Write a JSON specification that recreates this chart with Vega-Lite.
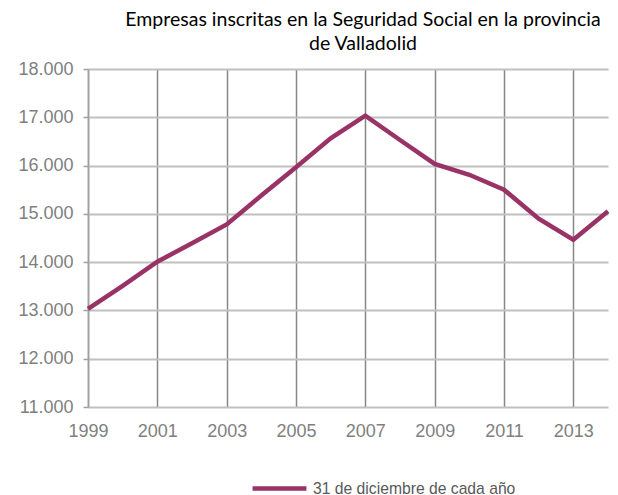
{
  "$schema": "https://vega.github.io/schema/vega-lite/v6.json",
  "width": 520,
  "height": 338,
  "autosize": "none",
  "padding": {"left": 88, "top": 69, "right": 10, "bottom": 88},
  "background": "#ffffff",
  "title": {
    "text": ["Empresas inscritas en la Seguridad Social en la provincia", "de Valladolid"],
    "font": "Lato",
    "fontSize": 19.5,
    "fontWeight": "normal",
    "color": "#000000",
    "anchor": "middle",
    "dx": 15,
    "offset": 6,
    "lineHeight": 24
  },
  "data": {
    "values": [
      {"anio": 1999, "empresas": 13030, "serie": "31 de diciembre de cada año"},
      {"anio": 2000, "empresas": 13510, "serie": "31 de diciembre de cada año"},
      {"anio": 2001, "empresas": 14010, "serie": "31 de diciembre de cada año"},
      {"anio": 2002, "empresas": 14390, "serie": "31 de diciembre de cada año"},
      {"anio": 2003, "empresas": 14780, "serie": "31 de diciembre de cada año"},
      {"anio": 2004, "empresas": 15380, "serie": "31 de diciembre de cada año"},
      {"anio": 2005, "empresas": 15965, "serie": "31 de diciembre de cada año"},
      {"anio": 2006, "empresas": 16565, "serie": "31 de diciembre de cada año"},
      {"anio": 2007, "empresas": 17035, "serie": "31 de diciembre de cada año"},
      {"anio": 2008, "empresas": 16530, "serie": "31 de diciembre de cada año"},
      {"anio": 2009, "empresas": 16035, "serie": "31 de diciembre de cada año"},
      {"anio": 2010, "empresas": 15810, "serie": "31 de diciembre de cada año"},
      {"anio": 2011, "empresas": 15500, "serie": "31 de diciembre de cada año"},
      {"anio": 2012, "empresas": 14900, "serie": "31 de diciembre de cada año"},
      {"anio": 2013, "empresas": 14465, "serie": "31 de diciembre de cada año"},
      {"anio": 2014, "empresas": 15055, "serie": "31 de diciembre de cada año"}
    ]
  },
  "mark": {"type": "line", "strokeWidth": 4.5, "strokeJoin": "miter", "strokeCap": "butt"},
  "encoding": {
    "x": {
      "field": "anio",
      "type": "quantitative",
      "scale": {"domain": [1999, 2014], "nice": false, "zero": false},
      "axis": {
        "values": [1999, 2001, 2003, 2005, 2007, 2009, 2011, 2013],
        "format": "d",
        "title": null,
        "grid": true,
        "gridColor": "#868686",
        "gridWidth": 1.5,
        "domain": false,
        "ticks": false,
        "labelFont": "Liberation Sans",
        "labelFontSize": 18,
        "labelColor": "#7f7f7f",
        "labelPadding": 15,
        "labelFlush": false
      }
    },
    "y": {
      "field": "empresas",
      "type": "quantitative",
      "scale": {"domain": [11000, 18000], "nice": false, "zero": false},
      "axis": {
        "values": [11000, 12000, 13000, 14000, 15000, 16000, 17000, 18000],
        "labelExpr": "replace(format(datum.value, ','), ',', '.')",
        "title": null,
        "grid": true,
        "gridColor": "#c0c0c0",
        "gridWidth": 2,
        "domainColor": "#a0a0a0",
        "domainWidth": 1.5,
        "tickColor": "#a0a0a0",
        "tickWidth": 1.5,
        "tickSize": 5,
        "labelPadding": 10,
        "labelFont": "Liberation Sans",
        "labelFontSize": 18,
        "labelColor": "#7f7f7f"
      }
    },
    "color": {
      "field": "serie",
      "type": "nominal",
      "scale": {"range": ["#993366"]},
      "legend": {
        "orient": "none",
        "legendX": 162,
        "legendY": 390,
        "padding": 0,
        "title": null,
        "symbolType": "stroke",
        "symbolSize": 2900,
        "symbolStrokeWidth": 4.5,
        "labelFont": "Liberation Sans",
        "labelFontSize": 15.7,
        "labelColor": "#595959",
        "labelOffset": 4,
        "labelLimit": 400
      }
    }
  },
  "config": {"view": {"stroke": null}}
}
